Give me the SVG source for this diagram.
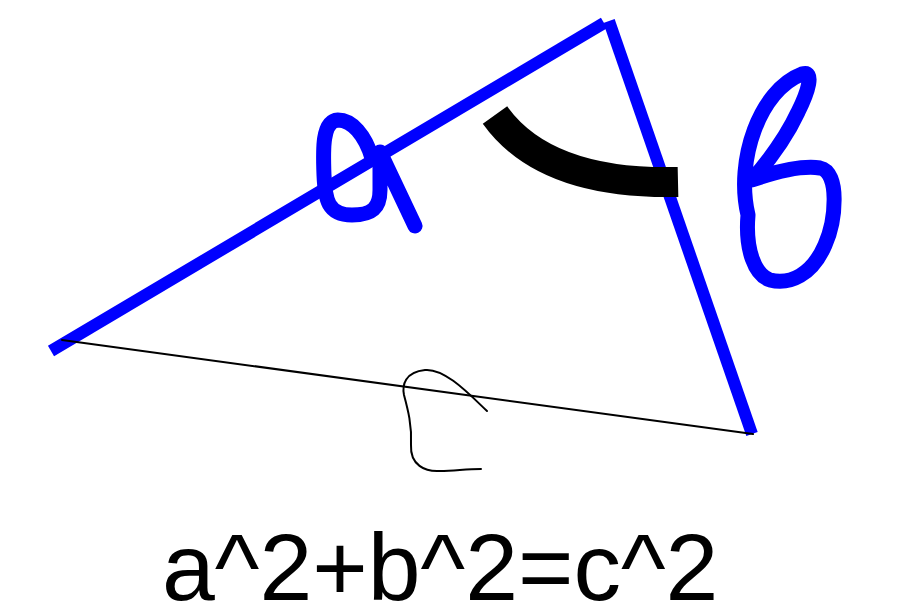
<svg xmlns="http://www.w3.org/2000/svg" width="902" height="613" viewBox="0 0 902 613">
<style>
.blue{fill:none;stroke:#0000ff;stroke-width:12;stroke-linecap:butt}
.pen{fill:none;stroke:#0000ff;stroke-width:15;stroke-linecap:round;stroke-linejoin:round}
.thin{fill:none;stroke:#000;stroke-width:2;stroke-linecap:round}
.label{font-family:"Liberation Sans",Arial,sans-serif;font-size:95px;fill:#000}
</style>
<rect width="902" height="613" fill="#fff"/>
<g id="side-a-line"><line class="blue" x1="51" y1="351" x2="604" y2="23"/></g>
<g id="side-b-line"><line class="blue" x1="609" y1="21" x2="752" y2="434"/></g>
<g id="side-c-line"><line class="thin" x1="62" y1="340" x2="753" y2="434"/></g>
<g id="angle-arc"><path d="M495,115 Q545,185 678,182" fill="none" stroke="#000" stroke-width="30"/></g>
<g id="letter-a"><path class="pen" d="M372,158 C365,135 352,120 338,120 C322,121 323,150 324,175 C325,200 328,215 352,215 C372,215 380,208 380,190 L380,152 L415,226"/></g>
<g id="letter-b"><path class="pen" d="M748,215 C735,160 760,90 802,74 C815,70 808,92 798,112 C785,140 765,165 752,180 C775,172 800,165 820,168 C840,172 836,220 825,245 C812,275 790,285 770,280 C755,275 745,250 748,215 Z"/></g>
<g id="letter-c"><path class="thin" d="M487,411 C470,395 445,368 425,370 C405,372 402,385 404,395 C408,410 412,425 411,445 C410,465 425,472 440,471 C455,471 465,469 481,469"/></g>
<g id="formula"><text class="label" x="162" y="600">a^2+b^2=c^2</text></g>
</svg>
